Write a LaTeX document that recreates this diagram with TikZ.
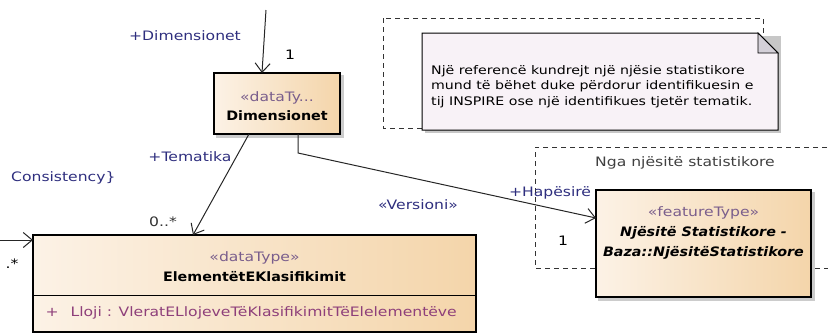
\documentclass[tikz,border=0pt]{standalone}
\usepackage{fontspec}
\setmainfont{DejaVu Sans}[FakeStretch=1.2, BoldFeatures={FakeStretch=1.1}, BoldItalicFeatures={FakeStretch=1.1}]
\usetikzlibrary{arrows.meta, positioning, calc, backgrounds}

\definecolor{boxL}{HTML}{FCF2E6}
\definecolor{boxR}{HTML}{F4D5AA}
\definecolor{noteFill}{HTML}{F8F2F7}
\definecolor{foldFill}{HTML}{D4D0D8}
\definecolor{stereo}{HTML}{7A5E8C}
\definecolor{role}{HTML}{2E2E7E}
\definecolor{attr}{HTML}{8E3F7A}

\begin{document}
\begin{tikzpicture}[x=1pt, y=-1pt, font=\fontsize{13}{19}\selectfont, >={Straight Barb[length=9pt,width=15pt]},
  umlbox/.style={draw, line width=1.2pt, left color=boxL, right color=boxR, inner sep=0pt},
  assoc/.style={draw=black!85, line width=1pt},
  rolelbl/.style={text=role, inner sep=1pt},
  boundary/.style={draw=black!80, dashed, dash pattern=on 5pt off 4pt, line width=1pt}]
  \useasboundingbox (0,0) rectangle (828,333);

  % boundaries
  \draw[boundary] (383,18) rectangle (763,128);
  \draw[boundary] (845,147) -- (535,147) -- (535,268) -- (845,268);
  \node[text=black!75] (ngalbl) at (685,163) {Nga njësitë statistikore};

  % note
  \fill[black!22] (425,36) -- (781,36) -- (781,133) -- (425,133) -- cycle;
  \draw[line width=1pt, fill=noteFill] (422,33) -- (758,33) -- (778,53) -- (778,130) -- (422,130) -- cycle;
  \draw[line width=.8pt, fill=foldFill] (758,33) -- (758,53) -- (778,53) -- cycle;
  \node[anchor=west, align=left, font=\fontsize{11.8}{15.5}\selectfont, inner sep=0pt] (note) at (431,86.5)
    {Një referencë kundrejt një njësie statistikore\\
     mund të bëhet duke përdorur identifikuesin e\\
     tij INSPIRE ose një identifikues tjetër tematik.};

  % classes
  \node[umlbox, minimum width=126, minimum height=61] (dim) at (277,103.5) {};
  \node[align=center] (dimtxt) at ($(dim.center)+(0,3)$) {\textcolor{stereo}{«dataTy...}\\\textbf{Dimensionet}};

  \node[umlbox, minimum width=443, minimum height=97] (elem) at (254.5,283.5) {};
  \node (elemst) at (254.5,258) {\textcolor{stereo}{«dataType»}};
  \node[font=\fontsize{13}{19}\bfseries] (elemnm) at (254.5,277) {ElementëtEKlasifikimit};
  \draw[line width=1pt] (elem.west |- 0,295) -- (elem.east |- 0,295);
  \node[anchor=west, text=attr] (elemat) at (42,313) {+\hspace{12pt}Lloji : VleratELlojeveTëKlasifikimitTëElelementëve};

  \node[umlbox, minimum width=215, minimum height=107] (feat) at (703.5,243.5) {};
  \node[align=center, font=\fontsize{13}{20}\selectfont] (feattxt) at (703.5,233)
    {\textcolor{stereo}{«featureType»}\\\textbf{\itshape Njësitë Statistikore -}\\\textbf{\itshape Baza::NjësitëStatistikore}};

  \begin{scope}[on background layer]
    \fill[black!20] ($(dim.south west)+(3,3)$) rectangle ($(dim.north east)+(3,3)$);
    \fill[black!20] ($(feat.south west)+(3,3)$) rectangle ($(feat.north east)+(3,3)$);
  \end{scope}

  % connectors
  \coordinate (dimtop) at (266,10);
  \coordinate (dimin) at (262,73);
  \draw[assoc, ->] (dimtop) -- (dimin);
  \node[rolelbl] (dimrole) at (185,36) {+Dimensionet};
  \node (dimmult) at (290,55) {1};

  \coordinate (temout) at (249,134);
  \coordinate (temin) at (193,235);
  \draw[assoc, ->] (temout) -- (temin);
  \node[rolelbl] (temrole) at (190,157) {+Tematika};
  \node[text=black!80] (temmult) at (163,222) {0..*};

  \coordinate (hapout) at (298,134);
  \coordinate (hapin) at (596,218);
  \draw[assoc, ->] (hapout) -- (298,153) -- (hapin);
  \node[rolelbl] (haprole) at (550,193) {+Hapësirë};
  \node (hapmult) at (563,241) {1};
  \node[rolelbl] (verlbl) at (418,205) {«Versioni»};

  \coordinate (leftfrom) at (-5,240);
  \coordinate (leftin) at (33,240);
  \draw[assoc, ->] (leftfrom) -- (leftin);
  \node[anchor=east] (leftmult) at (22,264) {.*};
  \node[anchor=west, rolelbl] (conslbl) at (10,178) {Consistency\}};
\end{tikzpicture}
\end{document}
